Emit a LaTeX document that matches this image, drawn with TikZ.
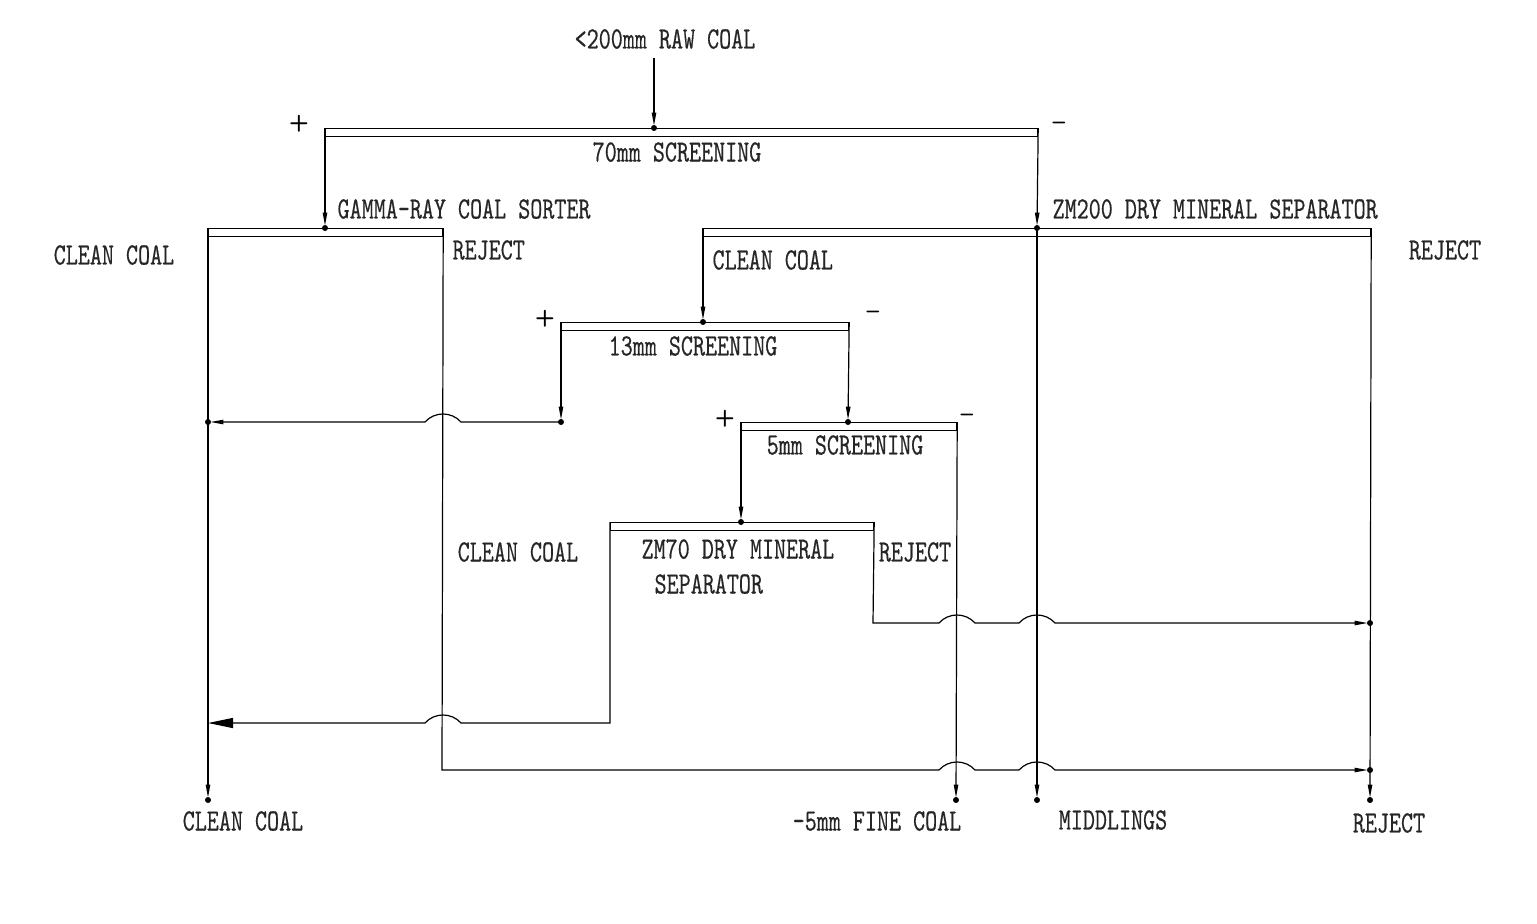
\documentclass[tikz,border=0pt]{standalone}
\usepackage{fontspec}
\newfontfamily\cadfont[FakeStretch=0.74,FakeBold=0.4]{lmmono10-regular.otf}
\usetikzlibrary{arrows.meta,positioning}

% hop where a horizontal line crosses a vertical one
\newcommand{\hopright}[2]{-- ({#1-18},#2) .. controls +(9.6,-10.7) and +(-9.6,-10.7) .. ({#1+18},#2)}
\newcommand{\hopleft}[2]{-- ({#1+18},#2) .. controls +(-9.6,-10.7) and +(9.6,-10.7) .. ({#1-18},#2)}

\begin{document}
\begin{tikzpicture}[
    x=0.5pt, y=-0.5pt,
    line width=0.6pt,
    screen/.style={
      draw,
      rectangle,
      inner sep=0pt,
      minimum height=4pt,
      anchor=north west
    },
    lbl/.style={
      font=\cadfont\fontsize{15.5}{18}\selectfont,
      inner sep=0pt,
      text=black!85
    },
    sign/.style={
      font=\sffamily\bfseries\fontsize{11.5}{14}\selectfont,
      inner sep=0pt
    },
    feed/.style={-{Triangle[length=6.5pt,width=2.2pt]}, shorten >=1.2pt},
    bigfeed/.style={-{Triangle[length=12.5pt,width=5pt]}}
  ]
    \useasboundingbox (0,0) rectangle (1537,923);

    % screens and separators
    \node[screen, minimum width=356pt] (s70) at (325,128) {};
    \node[screen, minimum width=117pt] (gamma) at (208,228) {};
    \node[screen, minimum width=333.5pt] (zm200) at (703,228) {};
    \node[screen, minimum width=143.5pt] (s13) at (561,322) {};
    \node[screen, minimum width=107.5pt] (s5) at (741,422) {};
    \node[screen, minimum width=131.5pt] (zm70) at (610,522) {};

    % feed and junction points
    \coordinate (rawin) at (654,58);
    \coordinate (f70) at (654,128);
    \coordinate (fgam) at (325,228);
    \coordinate (f200) at (1037,228);
    \coordinate (f13) at (703,322);
    \coordinate (f5) at (848,422);
    \coordinate (fzm70) at (741,522);
    \coordinate (j13) at (561,422);
    \coordinate (jclean) at (208,422);
    \coordinate (jrej1) at (1370,623);
    \coordinate (jrej2) at (1370,770);
    \coordinate (outclean) at (208,800);
    \coordinate (outfine) at (956,800);
    \coordinate (outmid) at (1037,800);
    \coordinate (outrej) at (1370,800);

    % labels
    \node[lbl] (lraw) at (665,39) {<200mm RAW COAL};
    \node[lbl] (l70) at (677,152) {70mm SCREENING};
    \node[sign] (p70) at (299,124) {+};
    \node[sign] (m70) at (1059,126) {--};
    \node[lbl, anchor=west] (lgam) at (337,209) {GAMMA-RAY COAL SORTER};
    \node[lbl] (lgamc) at (114,255) {CLEAN COAL};
    \node[lbl, anchor=west] (lgamr) at (452,250) {REJECT};
    \node[lbl, anchor=west] (l200) at (1052,209) {ZM200 DRY MINERAL SEPARATOR};
    \node[lbl, anchor=west] (l200c) at (712,260) {CLEAN COAL};
    \node[lbl] (l200r) at (1445,250) {REJECT};
    \node[lbl] (l13) at (693,346) {13mm SCREENING};
    \node[sign] (p13) at (545,319) {+};
    \node[sign] (m13) at (873,315) {--};
    \node[lbl] (l5) at (845,445) {5mm SCREENING};
    \node[sign] (p5) at (725,419) {+};
    \node[sign] (m5) at (967,418) {--};
    \node[lbl, anchor=west] (lzm70a) at (641,549) {ZM70 DRY MINERAL};
    \node[lbl, anchor=west] (lzm70b) at (654,584) {SEPARATOR};
    \node[lbl] (lzm70c) at (518,552) {CLEAN COAL};
    \node[lbl] (lzm70r) at (915,552) {REJECT};
    \node[lbl] (oclean) at (243,821) {CLEAN COAL};
    \node[lbl] (ofine) at (877,821) {-5mm FINE COAL};
    \node[lbl] (omid) at (1113,820) {MIDDLINGS};
    \node[lbl] (orej) at (1389,823) {REJECT};

    % flows
    \draw[feed] (rawin) -- (f70);
    \draw[feed] (s70.north west) -- (fgam);
    \draw[feed] (s70.north east) -- (f200);
    \draw[feed] (f200) -- (outmid);
    \draw[feed] (gamma.north west) -- (outclean);
    \draw[feed] (gamma.north east) -- (442,770) \hopright{957}{770} \hopright{1037}{770} -- (jrej2);
    \draw[feed] (zm200.north west) -- (f13);
    \draw[feed] (zm200.north east) -- (outrej);
    \draw[feed] (s13.north west) -- (j13);
    \draw[feed] (j13) \hopleft{443}{422} -- (jclean);
    \draw[feed] (s13.north east) -- (f5);
    \draw[feed] (s5.north west) -- (fzm70);
    \draw[feed] (s5.north east) -- (outfine);
    \draw[bigfeed] (zm70.north west) -- (610,723) \hopleft{443}{723} -- (208,723);
    \draw[feed] (zm70.north east) -- (873,623) \hopright{957}{623} \hopright{1037}{623} -- (jrej1);

    % dots at feed points
    \foreach \p in {f70,fgam,f200,f13,f5,fzm70,j13,jclean,jrej1,jrej2,outclean,outfine,outmid,outrej}
      \fill (\p) circle (1.5pt);
  \end{tikzpicture}
\end{document}
